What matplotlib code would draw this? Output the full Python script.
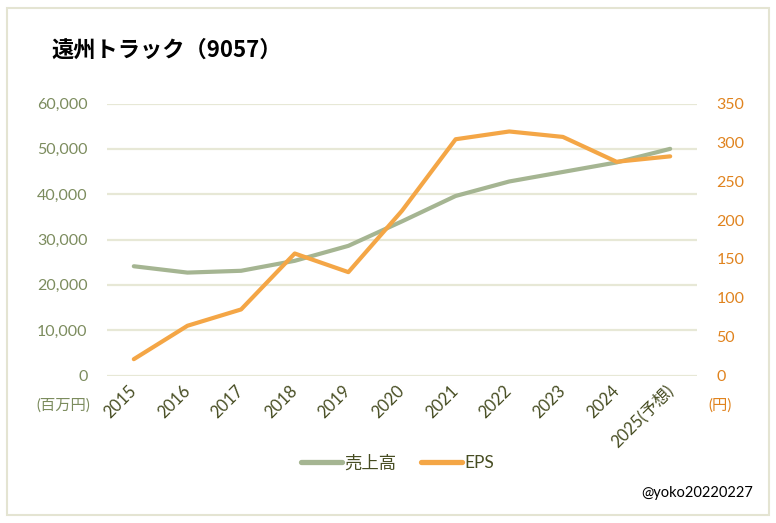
"""遠州トラック (9057) sales and EPS chart."""

import matplotlib
matplotlib.use('Agg')
import matplotlib.pyplot as plt
from matplotlib.patches import Rectangle
from matplotlib.ticker import FuncFormatter

plt.rcParams['font.family'] = ['Lato', 'Noto Sans CJK JP', 'DejaVu Sans']

years = ['2015', '2016', '2017', '2018', '2019', '2020',
         '2021', '2022', '2023', '2024', '2025(予想)']
sales = [24100, 22700, 23100, 25300, 28600, 34000,
         39600, 42800, 44900, 47000, 50000]          # 百万円
eps = [21, 64, 85, 157, 133, 212, 304, 314, 307, 275, 282]  # 円

GREEN = '#A5B592'
ORANGE = '#F4A646'
GRID = '#E7E8D6'
LEFT_TXT = '#7C8C5E'
RIGHT_TXT = '#E0831E'
X_TXT = '#474D22'

fig = plt.figure(figsize=(7.76, 5.23), dpi=100)
fig.patches.append(Rectangle((7 / 776, 8 / 523), 762 / 776, 507 / 523,
                             transform=fig.transFigure, facecolor='none',
                             edgecolor='#E4E4D2', linewidth=1.5))

ax = fig.add_axes([107 / 776, 1 - 375.5 / 523, 590 / 776, 272 / 523])
ax2 = ax.twinx()

x = list(range(len(years)))
ax.plot(x, sales, color=GREEN, lw=3, solid_capstyle='round', zorder=3,
        label='売上高')
ax2.plot(x, eps, color=ORANGE, lw=3, solid_capstyle='round', zorder=3,
         label='EPS')

ax.set_xlim(-0.5, len(years) - 0.5)
ax.set_ylim(0, 60000)
ax2.set_ylim(0, 350)
ax.set_yticks(range(0, 60001, 10000))
ax2.set_yticks(range(0, 351, 50))
ax.yaxis.set_major_formatter(FuncFormatter(lambda v, p: f'{int(v):,}'))
ax.grid(axis='y', color=GRID, lw=1.6)
ax.set_axisbelow(True)

for a in (ax, ax2):
    for s in a.spines.values():
        s.set_visible(False)
    a.patch.set_visible(False)

ax.tick_params(axis='y', length=0, pad=14, labelsize=11.5, labelcolor=LEFT_TXT)
ax2.tick_params(axis='y', length=0, pad=14, labelsize=11.5, labelcolor=RIGHT_TXT)
ax.set_xticks(x)
ax.set_xticklabels(years, rotation=45, ha='right', va='center',
                   rotation_mode='anchor', fontsize=12, color=X_TXT)
ax.tick_params(axis='x', length=0, pad=9)

fig.text(51 / 776, 1 - 50 / 523, '遠州トラック（9057）', fontsize=16,
         fontweight='bold', va='center', ha='left',
         family=['Noto Sans CJK JP'])
fig.text(63 / 776, 1 - 406 / 523, '(百万円)', fontsize=11, color=LEFT_TXT,
         ha='center', va='center')
fig.text(720 / 776, 1 - 406 / 523, '(円)', fontsize=11, color=RIGHT_TXT,
         ha='center', va='center')
fig.text(753 / 776, 1 - 493 / 523, '@yoko20220227', fontsize=10.5,
         ha='right', va='center', color='black')

h1, l1 = ax.get_legend_handles_labels()
h2, l2 = ax2.get_legend_handles_labels()
leg = fig.legend(h1 + h2, l1 + l2, loc='center',
                 bbox_to_anchor=(0.512, 1 - 463 / 523),
                 ncol=2, frameon=False, fontsize=12.5, labelcolor=X_TXT,
                 handlelength=2.4, handletextpad=0.1, columnspacing=1.4)
for line in leg.get_lines():
    line.set_linewidth(3.8)

fig.savefig('out.png', dpi=100)
